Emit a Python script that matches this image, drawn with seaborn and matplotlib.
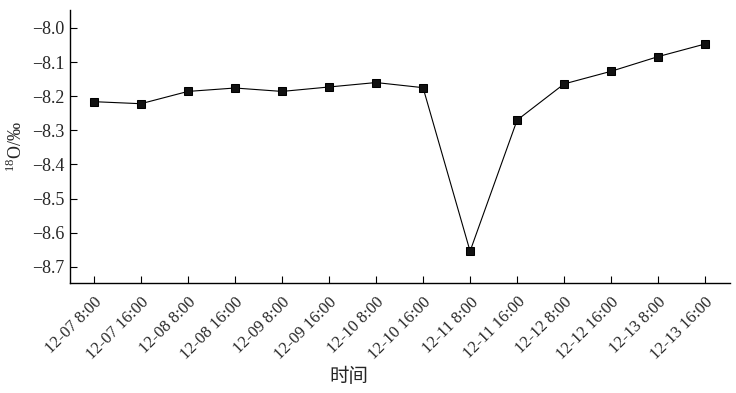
import pandas as pd
import matplotlib
matplotlib.use('Agg')
import matplotlib.pyplot as plt
import seaborn as sns

# 时间点与 18O 值
times = ['12-07 8:00', '12-07 16:00', '12-08 8:00', '12-08 16:00',
         '12-09 8:00', '12-09 16:00', '12-10 8:00', '12-10 16:00',
         '12-11 8:00', '12-11 16:00', '12-12 8:00', '12-12 16:00',
         '12-13 8:00', '12-13 16:00']
o18 = [-8.216, -8.222, -8.186, -8.176, -8.186, -8.173, -8.160, -8.175,
       -8.654, -8.270, -8.164, -8.127, -8.084, -8.047]
yticks = [-8.0, -8.1, -8.2, -8.3, -8.4, -8.5, -8.6, -8.7]

df = pd.DataFrame({'时间': times, 'O18': o18})

sns.set_style('white')
plt.rcParams['font.family'] = ['Liberation Serif', 'Noto Sans CJK SC', 'DejaVu Sans']
plt.rcParams['mathtext.fontset'] = 'custom'
plt.rcParams['mathtext.rm'] = 'Liberation Serif'

fig = plt.figure(figsize=(7.36, 3.93), dpi=100)
ax = fig.add_axes([0.095, 0.28, 0.897, 0.695])

sns.lineplot(data=df, x='时间', y='O18', sort=False, ax=ax,
             color='black', linewidth=0.8, marker='s', markersize=6,
             markeredgecolor='black', markerfacecolor='#111111')

ax.set_xlim(-0.51, 13.53)
ax.set_ylim(-8.747, -7.947)
ax.set_yticks(yticks)
ax.set_yticklabels([f'−{abs(v):.1f}' for v in yticks], fontsize=13)
ax.set_xticks(range(len(times)))
ax.set_xticklabels(times, rotation=45, ha='right', va='top',
                   rotation_mode='anchor', fontsize=12)

ax.tick_params(axis='both', direction='in', length=5, width=0.8,
               color='black', bottom=True, left=True, pad=4)
ax.tick_params(axis='x', pad=8)
for s in ['top', 'right']:
    ax.spines[s].set_visible(False)
for s in ['left', 'bottom']:
    ax.spines[s].set_color('black')
    ax.spines[s].set_linewidth(1.0)

ax.set_ylabel('$^{18}$O/‰', fontsize=13, labelpad=4)
ax.set_xlabel('时间', fontsize=14, family=['Noto Sans CJK SC'])
ax.xaxis.set_label_coords(0.423, -0.305)

fig.savefig('out.png', dpi=100)
